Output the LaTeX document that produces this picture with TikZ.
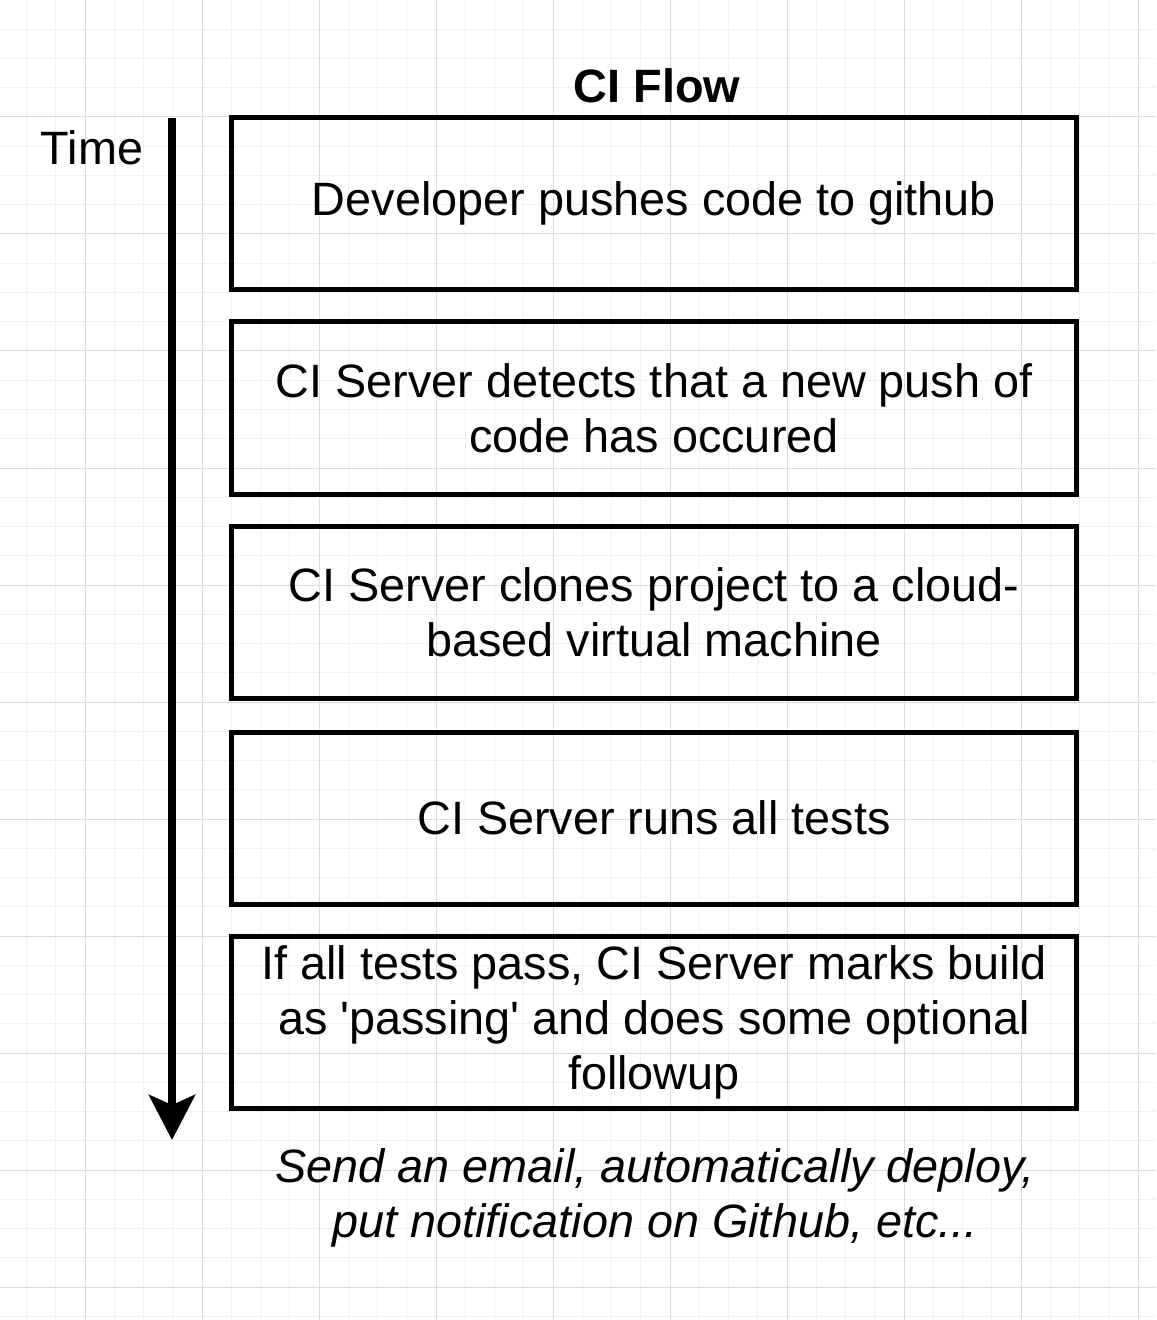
\documentclass[tikz,border=0pt]{standalone}
\usepackage{fontspec}
\setmainfont{Liberation Sans}
\usetikzlibrary{arrows.meta}

\definecolor{gridminor}{RGB}{241,241,241}
\definecolor{gridmajor}{RGB}{220,220,220}

\begin{document}
\begin{tikzpicture}[x=0.5pt,y=-0.5pt,every text node part/.style={align=center},
    stepbox/.style={draw,line width=2.5pt,minimum width=422.5pt,minimum height=86pt,
      inner sep=0pt,font=\fontsize{23.4}{27.5}\selectfont},
    plaintext/.style={inner sep=0pt,font=\fontsize{23.4}{27.5}\selectfont},
    timearrow/.style={line width=4pt,-{Stealth[length=22.5pt,width=23pt,inset=5pt]}}]

    \useasboundingbox (0,0) rectangle (1156,1320);

    % --------------------------------------------------------- %
    % ------------- background grid
    % --------------------------------------------------------- %
    \foreach \k in {0,...,40} {\draw[gridminor,line width=0.5pt] ({-2.75+29.25*\k},0) -- ++(0,1320);}
    \foreach \k in {0,...,45} {\draw[gridminor,line width=0.5pt] (0,{29.25*\k}) -- ++(1156,0);}
    \foreach \k in {0,...,9} {\draw[gridmajor,line width=0.5pt] ({85+117*\k},0) -- ++(0,1320);}
    \foreach \k in {0,...,11} {\draw[gridmajor,line width=0.5pt] (0,{117*\k}) -- ++(1156,0);}

    % --------------------------------------------------------- %
    % ------------- title and time axis
    % --------------------------------------------------------- %
    \node[plaintext,font=\fontsize{23.4}{27.5}\selectfont\bfseries] (title) at (657,86) {CI Flow};
    \node[plaintext] (time) at (92,148) {Time};
    \coordinate (arrowtop) at (172,118);
    \coordinate (arrowtip) at (172,1140);
    \draw[timearrow] (arrowtop) -- (arrowtip);

    % --------------------------------------------------------- %
    % ------------ CI steps
    % --------------------------------------------------------- %
    % --- step1 node
    \node[stepbox] (step1) at (654,203.5) {Developer pushes code to github};
    % --- step2 node
    \node[stepbox] (step2) at (654,408) {CI Server detects that a new push of \\ code has occured};
    % --- step3 node
    \node[stepbox] (step3) at (654,612.5) {CI Server clones project to a cloud- \\ based virtual machine};
    % --- step4 node
    \node[stepbox] (step4) at (654,818) {CI Server runs all tests};
    % --- step5 node
    \node[stepbox] (step5) at (654,1022.5) {If all tests pass, CI Server marks build \\ as \textquotesingle passing\textquotesingle{} and does some optional \\ followup};

    % --- followup note
    \node[plaintext,font=\fontsize{23.4}{27.5}\selectfont\itshape] (followup) at (655,1198) {Send an email, automatically deploy, \\ put notification on Github, etc...};

  \end{tikzpicture}
\end{document}
